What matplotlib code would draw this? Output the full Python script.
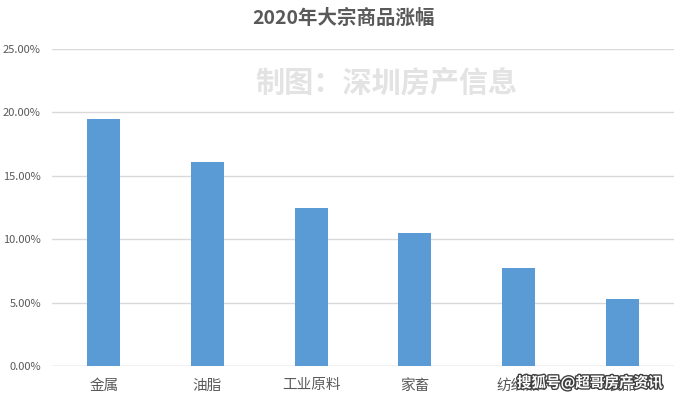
import matplotlib
matplotlib.use("Agg")
import matplotlib.pyplot as plt
import matplotlib.patheffects as pe
from matplotlib.ticker import FuncFormatter, MultipleLocator

plt.rcParams['font.family'] = ['Noto Sans CJK SC', 'DejaVu Sans']

categories = ["金属", "油脂", "工业原料", "家畜", "纺织品", "食品"]
values = [19.5, 16.1, 12.5, 10.5, 7.7, 5.3]
title = "2020年大宗商品涨幅"

fig = plt.figure(figsize=(6.82, 4.01), dpi=100)
ax = fig.add_axes([52/682, 1-366/401, 622/682, 317/401])

x = range(len(categories))
ax.bar(x, values, width=0.32, color="#5B9BD5", zorder=3)
ax.set_xlim(-0.5, len(categories)-0.5)
ax.set_ylim(0, 25)
ax.yaxis.set_major_locator(MultipleLocator(5))
ax.yaxis.set_major_formatter(FuncFormatter(lambda v, p: f"{v:.2f}%"))
ax.set_xticks(list(x))
ax.set_xticklabels(categories, fontsize=10.5, color="#595959")
ax.tick_params(axis='y', labelsize=8, colors="#595959", length=0, pad=8)
ax.tick_params(axis='x', length=0, pad=9)
ax.grid(axis='y', color="#D9D9D9", linewidth=1, zorder=0)
for s in ax.spines.values():
    s.set_visible(False)
ax.axhline(0, color="#D9D9D9", linewidth=1, zorder=2)

fig.text(344/682, 1-18/401, title, ha='center', va='center', fontsize=14,
         fontweight='bold', color="#595959")
fig.text(386/682, 1-83/401, "制图：深圳房产信息", ha='center', va='center',
         fontsize=21, fontweight='bold', color="#E3E3E3")
fig.text(590/682, 1-383/401, "搜狐号@超哥房产资讯", ha='center', va='center',
         fontsize=10.5, fontweight='bold', color="white",
         path_effects=[pe.withStroke(linewidth=2, foreground="#404040")])

fig.savefig("out.png", dpi=100)
